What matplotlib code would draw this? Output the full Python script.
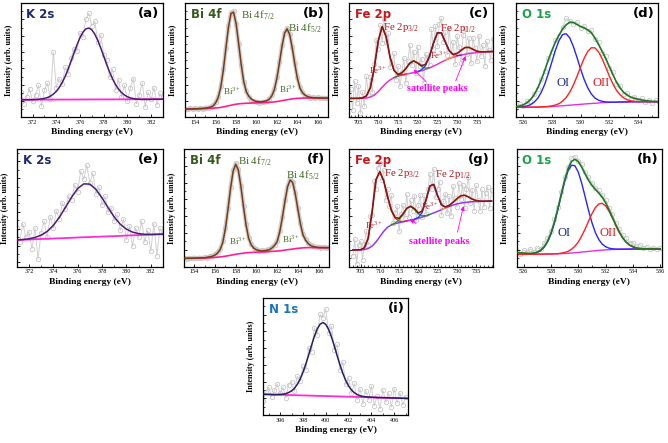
import numpy as np
import matplotlib
matplotlib.use('Agg')
import matplotlib.pyplot as plt
from matplotlib.ticker import MultipleLocator

plt.rcParams['font.family'] = 'Liberation Serif'
plt.rcParams['mathtext.fontset'] = 'stix'

# ---------------- K 2s : panels (a) and (e) ----------------
k_data_x = np.arange(371, 383.01, 0.25)
k_a_data = [22, 12, 18, 25, 14, 20, 28, 10, 24, 30, 16, 57, 26, 34, 29, 44, 38, 52, 60, 58,
            74, 70, 86, 91, 80, 84, 66, 72, 55, 50, 35, 42, 24, 33, 18, 28, 14, 26, 34, 12,
            20, 30, 9, 22, 16, 26, 11, 21, 18]
k_a_env = [15.5, 15.5, 15.5, 15.5, 15.6, 15.7, 15.9, 16.2, 16.7, 17.4, 18.6, 20.4, 22.8, 26.2,
           30.5, 35.9, 42.2, 49.2, 56.4, 63.5, 69.7, 74.5, 77.4, 78.1, 76.5, 72.7, 67.3, 60.7,
           53.5, 46.3, 39.6, 33.6, 28.7, 24.8, 21.8, 19.6, 18.1, 17.1, 16.5, 16.1, 15.9, 15.8,
           15.8, 15.8, 15.8, 15.9, 15.9, 15.9, 16.0]
k_a_bg_x = [371, 383]
k_a_bg = [15.5, 16.0]

k_e_data = [30, 18, 34, 22, 27, 12, 30, 3, 26, 36, 22, 40, 30, 45, 38, 52, 47, 58, 55, 68,
            62, 80, 73, 85, 70, 78, 60, 66, 50, 58, 44, 48, 36, 42, 28, 38, 20, 32, 14, 30,
            22, 36, 18, 28, 10, 34, 6, 30, 26]
k_e_x = np.arange(371, 383.01, 0.5)
k_e_env = [19.7, 20.0, 20.6, 21.8, 23.8, 27.1, 32.3, 39.5, 48.2, 57.1, 64.7, 68.8, 68.6, 64.0,
           56.5, 47.9, 39.8, 33.4, 29.1, 26.5, 25.2, 24.6, 24.5, 24.6, 24.7]
k_e_bg = [19.6, 19.8, 20.0, 20.3, 20.5, 20.7, 20.9, 21.1, 21.3, 21.5, 21.8, 22.0, 22.2, 22.4,
          22.6, 22.8, 23.0, 23.2, 23.5, 23.7, 23.9, 24.1, 24.3, 24.5, 24.7]

# ---------------- Bi 4f : panels (b) and (f) ----------------
bi_data_x = np.arange(153, 167.01, 0.25)
bi_b_data = [7.8, 7.0, 7.9, 7.2, 8.0, 7.4, 8.3, 7.6, 8.4, 8.6, 9.4, 10.6, 13.3, 17.9, 27.2,
             42.0, 60.9, 79.5, 91.6, 92.6, 81.3, 63.9, 45.5, 30.6, 22.9, 17.8, 15.5, 14.0,
             13.6, 13.0, 13.2, 13.9, 14.2, 16.5, 19.5, 25.0, 35.1, 48.6, 63.0, 74.2, 77.9,
             72.9, 61.3, 47.4, 35.0, 26.4, 22.3, 19.0, 18.6, 17.2, 17.8, 16.9, 17.5, 16.6,
             17.4, 16.7, 17.2]
bi_f_data = [7.6, 6.8, 7.5, 7.0, 7.8, 7.1, 7.7, 7.3, 7.9, 7.6, 8.9, 9.3, 10.5, 12.2, 15.3,
             21.4, 33.1, 49.5, 67.5, 82.1, 87.8, 82.7, 68.9, 51.6, 35.9, 24.7, 19.1, 16.3,
             14.9, 13.6, 13.9, 13.2, 14.5, 15.0, 16.5, 18.7, 22.0, 30.2, 42.3, 56.3, 68.4,
             74.5, 72.3, 62.6, 49.6, 37.0, 27.5, 23.2, 20.2, 18.5, 17.6, 16.5, 17.0, 16.2,
             16.8, 16.0, 16.6]
bi_x = [153, 154, 155, 155.5, 155.75, 156, 156.25, 156.5, 156.75, 157, 157.25, 157.5, 157.75,
        158, 158.25, 158.5, 158.75, 159, 159.25, 159.5, 159.75, 160, 160.5, 161, 161.25,
        161.5, 161.75, 162, 162.25, 162.5, 162.75, 163, 163.25, 163.5, 163.75, 164, 164.25,
        164.5, 164.75, 165, 165.25, 165.5, 166, 167]
bi_b_env = [7.3, 7.5, 8.1, 9.0, 10.1, 12.8, 17.5, 26.4, 41.3, 60.2, 78.7, 90.8, 92.0, 82.0,
            64.7, 46.3, 31.4, 22.5, 18.5, 16.1, 14.7, 14.0, 13.7, 14.6, 16.0, 18.9, 24.3, 34.3,
            47.9, 62.4, 73.6, 77.4, 72.4, 60.7, 46.7, 34.4, 25.7, 21.7, 19.5, 18.2, 17.6, 17.3,
            17.0, 16.9]
bi_b_bg = [7.3, 7.5, 7.8, 8.0, 8.1, 8.3, 8.5, 8.8, 9.2, 9.7, 10.2, 10.7, 11.2, 11.6, 11.9,
           12.1, 12.3, 12.4, 12.5, 12.6, 12.7, 12.8, 12.9, 13.1, 13.2, 13.4, 13.6, 13.9, 14.3,
           14.7, 15.1, 15.5, 15.9, 16.2, 16.5, 16.7, 16.8, 16.9, 17.0, 17.0, 17.0, 17.0, 17.0,
           16.9]
bi_f_env = [7.1, 7.2, 7.6, 8.4, 8.9, 9.9, 11.6, 14.6, 20.6, 32.3, 48.6, 66.6, 81.2, 87.0,
            82.0, 68.1, 50.8, 35.2, 24.0, 18.4, 15.7, 14.3, 13.3, 13.9, 14.4, 15.9, 18.0, 21.3,
            29.5, 41.6, 55.5, 67.6, 73.7, 71.5, 61.9, 48.8, 36.2, 26.8, 22.5, 19.6, 17.9, 17.0,
            16.2, 16.1]
bi_f_bg = [7.1, 7.2, 7.4, 7.6, 7.7, 7.9, 8.1, 8.3, 8.6, 8.9, 9.3, 9.7, 10.1, 10.5, 10.9, 11.2,
           11.5, 11.8, 12.0, 12.1, 12.2, 12.3, 12.5, 12.7, 12.8, 13.0, 13.1, 13.3, 13.5, 13.8,
           14.1, 14.4, 14.7, 15.0, 15.3, 15.6, 15.8, 16.0, 16.1, 16.2, 16.2, 16.2, 16.2, 16.1]

# ---------------- Fe 2p : panels (c) and (g) ----------------
fe_data_x = np.arange(703, 739.01, 0.5)
fe_c_data = [24.7, 6.7, 31.7, 12.7, 27.7, 3.9, 22.1, 9.8, 35.8, 19.8, 35.0, 22.0, 46.3, 68.0,
             59.8, 80.5, 65.4, 86.0, 65.5, 73.5, 43.7, 48.0, 56.1, 33.0, 44.7, 27.2, 40.0, 51.8,
             29.8, 49.2, 63.4, 45.6, 57.4, 38.7, 61.6, 45.2, 51.2, 30.5, 55.4, 52.5, 45.5, 77.0,
             59.9, 80.0, 62.0, 81.5, 86.8, 66.2, 74.9, 54.8, 78.3, 54.4, 66.1, 46.4, 71.0, 61.2,
             47.6, 72.0, 78.1, 55.3, 69.2, 47.4, 69.5, 60.6, 48.9, 71.5, 53.3, 63.3, 45.3, 66.4,
             58.5, 50.5, 68.6]
fe_g_data = [9.2, 23.2, 2.2, 18.3, 21.4, 6.0, 19.1, 30.5, 18.5, 43.0, 43.8, 73.0, 65.9, 84.0,
             88.0, 73.5, 82.0, 56.5, 65.6, 51.5, 60.8, 37.3, 45.7, 51.2, 30.1, 44.7, 52.7, 41.3,
             61.6, 41.8, 56.3, 47.5, 60.3, 39.3, 52.6, 61.0, 42.3, 60.5, 44.8, 66.2, 78.6, 66.2,
             82.9, 58.8, 66.4, 72.0, 43.6, 55.5, 61.8, 45.2, 60.0, 43.3, 68.7, 58.2, 50.7, 71.1,
             57.2, 69.6, 49.7, 66.1, 76.3, 54.3, 65.4, 47.7, 69.2, 56.9, 47.7, 65.6, 50.6, 62.6,
             67.7, 49.7, 64.8]
fe_x = np.arange(703, 740)
fe_c_env = [16.7, 16.7, 16.7, 17.1, 18.8, 26.0, 43.3, 66.8, 79.4, 70.5, 52.7, 41.1, 37.7, 39.0,
            42.8, 47.4, 49.4, 47.6, 45.2, 46.4, 53.5, 64.9, 74.0, 73.8, 65.9, 58.3, 55.1, 56.0,
            58.6, 61.1, 61.2, 59.5, 57.9, 57.3, 57.3, 57.5, 57.6]
fe_c_bg = [16.7, 16.7, 16.7, 16.8, 17.0, 17.8, 19.5, 22.5, 26.5, 30.0, 32.8, 34.8, 36.0, 37.0,
           37.8, 38.5, 39.2, 40.0, 40.9, 42.0, 43.3, 44.8, 46.5, 48.3, 50.0, 51.5, 52.7, 53.7,
           54.5, 55.2, 55.8, 56.3, 56.7, 57.0, 57.3, 57.5, 57.6]
fe_c_red_x = np.arange(705, 718)
fe_c_red = [16.7, 17.1, 18.8, 26.0, 43.3, 66.8, 79.4, 70.5, 52.7, 41.1, 37.3, 37.2, 37.8]
fe_c_green_x = np.arange(714, 724)
fe_c_green = [34.8, 36.4, 38.8, 42.8, 47.4, 49.4, 47.5, 44.4, 43.1, 43.5]
fe_c_blue_x = np.arange(720, 732)
fe_c_blue = [40.1, 41.7, 45.3, 53.3, 64.9, 74.0, 73.8, 65.9, 58.2, 54.6, 54.1, 54.5]
fe_c_orange_x = np.arange(727, 738)
fe_c_orange = [50.0, 51.6, 53.2, 55.6, 58.6, 61.1, 61.2, 59.5, 57.9, 57.3, 57.3]

fe_g_env = [14.2, 14.2, 14.4, 16.1, 24.5, 46.8, 73.9, 80.7, 73.0, 59.6, 47.8, 41.7, 41.1, 44.7,
            49.6, 51.3, 49.3, 45.6, 47.3, 56.8, 68.6, 69.9, 60.4, 52.6, 50.8, 52.0, 54.7, 57.7,
            60.2, 60.7, 59.3, 57.4, 56.2, 55.7, 55.6, 55.7, 55.8]
fe_g_bg = [14.2, 14.2, 14.3, 14.6, 15.5, 17.5, 21.0, 25.5, 30.0, 33.5, 35.5, 36.6, 37.4, 38.1,
           38.8, 39.5, 40.3, 41.2, 42.1, 43.2, 44.4, 45.7, 47.0, 48.5, 49.9, 51.2, 52.3, 53.3,
           54.0, 54.5, 54.9, 55.2, 55.4, 55.5, 55.6, 55.7, 55.8]
fe_g_red_x = np.arange(705, 718)
fe_g_red = [14.4, 16.1, 24.5, 46.8, 73.9, 80.7, 73.0, 59.6, 47.8, 41.1, 38.7, 38.4, 38.8]
fe_g_green_x = np.arange(713, 724)
fe_g_green = [35.5, 37.2, 39.8, 44.4, 49.6, 51.3, 48.5, 44.9, 43.2, 43.4, 44.4]
fe_g_blue_x = np.arange(719, 729)
fe_g_blue = [40.3, 41.9, 46.2, 56.6, 68.6, 69.9, 60.4, 52.6, 50.6, 51.2]
fe_g_orange_x = np.arange(726, 737)
fe_g_orange = [48.5, 50.1, 52.0, 54.5, 57.7, 60.2, 60.7, 59.3, 57.4, 56.2, 55.7]

# ---------------- O 1s : panels (d) and (h) ----------------
o_d_x = np.arange(525.5, 535.51, 0.25)
o_d_data = [8.0, 11.5, 10.2, 14.0, 14.6, 20.8, 24.6, 33.8, 40.2, 51.6, 57.3, 67.5, 71.1, 79.0,
            86.5, 84.6, 81.4, 83.5, 78.0, 80.1, 75.2, 76.3, 68.1, 65.9, 56.2, 53.8, 43.0, 39.6,
            29.4, 27.9, 20.5, 21.3, 16.5, 18.2, 14.9, 16.8, 13.9, 15.6, 13.0, 15.1, 13.2]
o_d_env = [9.5, 10.0, 11.0, 12.8, 15.5, 19.5, 25.5, 32.5, 41.0, 50.2, 58.5, 66.0, 72.0, 77.3,
           81.0, 83.2, 83.0, 81.2, 79.5, 78.2, 76.5, 74.0, 69.5, 63.8, 57.8, 51.5, 44.5, 37.5,
           31.0, 25.8, 22.0, 19.5, 17.8, 16.8, 16.0, 15.3, 14.8, 14.4, 14.1, 13.9, 13.8]
o_d_oi = [9.0, 9.1, 9.4, 10.0, 11.1, 13.2, 16.5, 21.8, 29.0, 38.3, 48.6, 58.9, 67.3, 72.5, 73.1,
          69.4, 61.9, 52.4, 42.3, 33.2, 25.9, 20.5, 17.0, 15.1, 14.1, 13.6, 13.4, 13.35, 13.4,
          13.5, 13.55, 13.6, 13.7, 13.7, 13.75, 13.8, 13.8, 13.8, 13.8, 13.8, 13.8]
o_d_oii = [8.9, 8.9, 8.95, 8.97, 9.0, 9.05, 9.1, 9.15, 9.4, 9.65, 10.1, 10.9, 12.1, 14.25, 17.5,
           22.2, 28.4, 35.9, 44.0, 51.7, 57.7, 60.9, 60.8, 57.4, 51.4, 44.0, 36.3, 29.4, 23.8,
           19.8, 17.1, 15.5, 14.6, 14.1, 13.95, 13.85, 13.8, 13.8, 13.8, 13.8, 13.8]
o_d_bg = [8.9, 8.9, 8.95, 8.97, 9.0, 9.05, 9.1, 9.15, 9.3, 9.45, 9.6, 9.8, 10.0, 10.25, 10.5,
          10.75, 11.0, 11.25, 11.5, 11.75, 12.0, 12.2, 12.4, 12.65, 12.9, 13.05, 13.2, 13.3,
          13.4, 13.5, 13.55, 13.6, 13.7, 13.7, 13.75, 13.8, 13.8, 13.8, 13.8, 13.8, 13.8]

o_h_x = np.arange(525.5, 536.01, 0.25)
o_h_data = [13.5, 11.0, 14.2, 12.3, 15.1, 12.8, 16.0, 15.2, 19.8, 24.5, 30.6, 40.2, 50.8, 63.5,
            75.8, 85.0, 92.0, 93.5, 90.2, 87.1, 80.6, 75.9, 71.4, 67.2, 64.8, 61.0, 56.9, 50.1,
            44.6, 37.2, 32.0, 26.8, 24.1, 20.5, 20.2, 17.3, 18.6, 16.1, 17.0, 15.2, 16.3, 14.8,
            15.6]
o_h_env = [12.0, 11.8, 11.6, 11.4, 11.3, 11.6, 12.3, 13.9, 16.7, 21.2, 27.9, 37.2, 48.4, 60.9,
           72.9, 82.9, 89.3, 91.25, 89.3, 84.6, 78.9, 73.4, 69.1, 65.65, 62.6, 59.05, 54.4,
           48.45, 42.0, 35.35, 29.4, 24.45, 20.9, 18.35, 16.9, 15.9, 15.4, 15.2, 15.0, 15.0,
           15.0, 15.0, 15.0]
o_h_oi = [10.5, 10.5, 10.5, 10.5, 10.85, 11.3, 12.1, 13.75, 16.6, 21.15, 27.9, 37.1, 48.3, 60.5,
          72.1, 81.3, 86.2, 85.85, 80.5, 71.1, 59.7, 47.9, 37.5, 29.05, 23.1, 19.25, 17.0,
          15.75, 15.2, 14.95, 14.9, 14.9, 14.9, 14.95, 15.0, 15.0, 15.0, 15.0, 15.0, 15.0,
          15.0, 15.0, 15.0]
o_h_oii = [10.5, 10.5, 10.5, 10.5, 10.55, 10.6, 10.6, 10.65, 10.7, 10.75, 10.8, 10.9, 11.0,
           11.5, 12.0, 13.0, 14.7, 17.25, 20.9, 25.9, 31.9, 38.5, 44.9, 50.15, 53.3, 53.85,
           51.7, 47.15, 41.4, 35.1, 29.3, 24.45, 20.9, 18.35, 16.9, 15.9, 15.4, 15.2, 15.0,
           15.0, 15.0, 15.0, 15.0]
o_h_bg = [10.5, 10.5, 10.5, 10.5, 10.55, 10.6, 10.6, 10.65, 10.7, 10.75, 10.8, 10.9, 11.0, 11.1,
          11.2, 11.4, 11.6, 11.85, 12.1, 12.4, 12.7, 13.0, 13.3, 13.55, 13.8, 14.05, 14.3,
          14.45, 14.6, 14.7, 14.8, 14.85, 14.9, 14.95, 15.0, 15.0, 15.0, 15.0, 15.0, 15.0,
          15.0, 15.0, 15.0]

# ---------------- N 1s : panel (i) ----------------
n_data_x = np.arange(394.5, 407.01, 0.25)
n_data = [12.0, 19.5, 24.0, 15.8, 21.0, 26.5, 18.4, 23.6, 14.9, 25.8, 28.3, 20.1, 33.0, 28.7,
          41.5, 38.6, 57.2, 54.0, 74.5, 68.8, 86.0, 83.2, 90.5, 70.4, 76.1, 55.9, 60.3, 38.7,
          45.2, 26.1, 31.8, 18.5, 27.0, 12.9, 22.4, 9.6, 20.8, 13.1, 24.5, 7.9, 16.2, 5.4,
          21.7, 11.3, 18.9, 6.8, 22.6, 10.4, 19.2, 8.7, 15.5]
n_x = [394.5, 395.0, 395.5] + list(np.arange(396.0, 403.51, 0.25)) + [404.5, 405.5, 406.5, 407.2]
n_env = [17.7, 17.6, 17.4, 17.6, 17.8, 18.3, 19.2, 20.6, 22.8, 26.1, 30.6, 36.4, 43.5, 51.3,
         59.5, 67.2, 73.5, 77.6, 79.1, 77.5, 73.2, 66.7, 59.0, 50.6, 42.6, 35.5, 29.5, 24.8,
         21.5, 19.1, 17.5, 16.5, 15.9, 15.5, 14.9, 14.7, 14.4, 14.2]
n_bg_x = [394.5, 407.2]
n_bg = [17.7, 14.2]

MAGENTA = '#ff2bd6'
SAT = '#ff00ff'


def make_ax(rect, xlim, ylim, xmajor, xminor):
    ax = fig.add_axes(rect)
    ax.set_xlim(*xlim)
    ax.set_ylim(*ylim)
    ax.xaxis.set_major_locator(MultipleLocator(xmajor))
    ax.xaxis.set_minor_locator(MultipleLocator(xminor))
    span = ylim[1] - ylim[0]
    ax.yaxis.set_major_locator(MultipleLocator(span / 7))
    ax.yaxis.set_minor_locator(MultipleLocator(span / 14))
    ax.tick_params(which='both', direction='in')
    ax.tick_params(axis='x', which='major', length=2.5, width=0.6, labelsize=4.4, pad=1.8)
    ax.tick_params(axis='x', which='minor', length=1.4, width=0.5)
    ax.tick_params(axis='y', which='major', length=2.5, width=0.6, labelleft=False)
    ax.tick_params(axis='y', which='minor', length=1.4, width=0.5)
    for s in ax.spines.values():
        s.set_linewidth(0.9)
    ax.set_xlabel('Binding energy (eV)', fontsize=6.8, fontweight='bold', labelpad=2.5)
    ax.set_ylabel('Intensity (arb. units)', fontsize=5.8, fontweight='bold', labelpad=2.5)
    return ax


def raw(ax, x, y, halo=False):
    if halo:
        ax.plot(x, y, '-', color='#d2d2d2', lw=3.0, zorder=1)
    ax.plot(x, y, '-', color='#d0d0d0', lw=0.7, zorder=1)
    ax.plot(x, y, 'o', mfc='none', mec='#c6c6c6', ms=3.2, mew=0.6, zorder=1.2)


def heads(ax, title, tcolor, label):
    ax.text(0.04, 0.96, title, transform=ax.transAxes, ha='left', va='top', fontsize=8.5,
            fontweight='bold', family='DejaVu Sans', color=tcolor)
    ax.text(0.975, 0.965, label, transform=ax.transAxes, ha='right', va='top', fontsize=9.5,
            fontweight='bold', family='DejaVu Sans', color='black')


fig = plt.figure(figsize=(6.68, 4.43), dpi=100)

# (a) K 2s
ax = make_ax([0.031, 0.7348, 0.213, 0.2585], (371, 383), (0, 100), 2, 1)
raw(ax, k_data_x, k_a_data)
ax.plot(k_a_bg_x, k_a_bg, color=MAGENTA, lw=1.3, zorder=2)
ax.plot(k_data_x, k_a_env, color='#4a1b78', lw=1.1, zorder=3)
heads(ax, 'K 2s', '#1c2a6e', '(a)')

# (b) Bi 4f
ax = make_ax([0.277, 0.7348, 0.214, 0.2585], (153, 167), (0, 100), 2, 1)
raw(ax, bi_data_x, bi_b_data, halo=True)
ax.plot(bi_x, bi_b_bg, color='#ff1f8f', lw=1.2, zorder=2)
ax.plot(bi_x, bi_b_env, color='#7a3a12', lw=1.1, zorder=3)
heads(ax, 'Bi 4f', '#36591c', '(b)')
ax.text(158.5, 89.5, r'Bi 4f$_{\mathregular{7/2}}$', fontsize=7.8, color='#3f6a22', va='center')
ax.text(163.1, 78.0, r'Bi 4f$_{\mathregular{5/2}}$', fontsize=7.8, color='#3f6a22', va='center')
ax.text(157.6, 22.6, r'Bi$^{\mathregular{3+}}$', fontsize=6.5, color='#3f6a22', ha='center', va='center')
ax.text(163.1, 24.6, r'Bi$^{\mathregular{3+}}$', fontsize=6.5, color='#3f6a22', ha='center', va='center')

# (c) Fe 2p
ax = make_ax([0.5225, 0.7348, 0.2156, 0.2585], (702.6, 739.1), (0, 100), 5, 1)
raw(ax, fe_data_x, fe_c_data)
ax.plot(fe_x, fe_c_bg, color='#e535d0', lw=1.1, zorder=2)
ax.plot(fe_c_red_x, fe_c_red, color='#ff1a1a', lw=0.9, zorder=2.5)
ax.plot(fe_c_green_x, fe_c_green, color='#1a9a1a', lw=0.9, zorder=2.5)
ax.plot(fe_c_blue_x, fe_c_blue, color='#2035ff', lw=0.9, zorder=2.5)
ax.plot(fe_c_orange_x, fe_c_orange, color='#ff9a1a', lw=0.9, zorder=2.5)
ax.plot(fe_x, fe_c_env, color='#8a1515', lw=1.2, zorder=3)
heads(ax, 'Fe 2p', '#c8151c', '(c)')
ax.text(711.3, 79, r'Fe 2p$_{\mathregular{3/2}}$', fontsize=7.8, color='#b5161d', va='center')
ax.text(725.6, 78, r'Fe 2p$_{\mathregular{1/2}}$', fontsize=7.8, color='#b5161d', va='center')
ax.text(710.0, 41.5, r'Fe$^{\mathregular{3+}}$', fontsize=6.3, color='#b5161d', ha='center', va='center')
ax.text(725.5, 54.6, r'Fe$^{\mathregular{3+}}$', fontsize=6.3, color='#b5161d', ha='center', va='center')
ax.text(725.0, 25.5, 'satellite peaks', fontsize=7.3, fontweight='bold', color=SAT,
        ha='center', va='center')
for (x0, y0, x1, y1) in [(722.6, 29.8, 718.5, 43.5), (729.4, 29.8, 732.4, 56.0)]:
    ax.annotate('', xy=(x1, y1), xytext=(x0, y0),
                arrowprops=dict(arrowstyle='-|>', color=SAT, lw=0.6, mutation_scale=6))

# (d) O 1s
ax = make_ax([0.7725, 0.7348, 0.2126, 0.2585], (525.5, 535.4), (0, 100), 2, 1)
raw(ax, o_d_x, o_d_data)
ax.plot(o_d_x, o_d_bg, color='#e030e0', lw=1.0, zorder=2)
ax.plot(o_d_x, o_d_oi, color='#2525ff', lw=1.0, zorder=2.5)
ax.plot(o_d_x, o_d_oii, color='#ff2020', lw=1.0, zorder=2.5)
ax.plot(o_d_x, o_d_env, color='#1e7a22', lw=1.2, zorder=3)
heads(ax, 'O 1s', '#1fa24a', '(d)')
ax.text(528.8, 29.8, 'OI', fontsize=9, color='#1a237e', ha='center', va='center')
ax.text(531.4, 29.8, 'OII', fontsize=9, color='#e8141c', ha='center', va='center')

# (e) K 2s
ax = make_ax([0.025, 0.398, 0.219, 0.2657], (371, 383), (-3.8, 99.4), 2, 1)
raw(ax, k_data_x, k_e_data)
ax.plot(k_e_x, k_e_bg, color=MAGENTA, lw=1.3, zorder=2)
ax.plot(k_e_x, k_e_env, color='#4a1b78', lw=1.1, zorder=3)
heads(ax, 'K 2s', '#1c2a6e', '(e)')

# (f) Bi 4f
ax = make_ax([0.2754, 0.398, 0.217, 0.2657], (153, 167), (0, 100), 2, 1)
raw(ax, bi_data_x, bi_f_data, halo=True)
ax.plot(bi_x, bi_f_bg, color='#ff1f8f', lw=1.2, zorder=2)
ax.plot(bi_x, bi_f_env, color='#7a3a12', lw=1.1, zorder=3)
heads(ax, 'Bi 4f', '#36591c', '(f)')
ax.text(158.2, 90.0, r'Bi 4f$_{\mathregular{7/2}}$', fontsize=7.8, color='#3f6a22', va='center')
ax.text(162.9, 77.5, r'Bi 4f$_{\mathregular{5/2}}$', fontsize=7.8, color='#3f6a22', va='center')
ax.text(158.2, 21.2, r'Bi$^{\mathregular{3+}}$', fontsize=6.5, color='#3f6a22', ha='center', va='center')
ax.text(163.3, 23.2, r'Bi$^{\mathregular{3+}}$', fontsize=6.5, color='#3f6a22', ha='center', va='center')

# (g) Fe 2p
ax = make_ax([0.5225, 0.398, 0.2156, 0.2657], (702.0, 739.4), (0, 100), 5, 1)
raw(ax, fe_data_x, fe_g_data)
ax.plot(fe_x, fe_g_bg, color='#9b35f0', lw=1.1, zorder=2)
ax.plot(fe_g_red_x, fe_g_red, color='#ff1a1a', lw=0.9, zorder=2.5)
ax.plot(fe_g_green_x, fe_g_green, color='#1a9a1a', lw=0.9, zorder=2.5)
ax.plot(fe_g_blue_x, fe_g_blue, color='#2035ff', lw=0.9, zorder=2.5)
ax.plot(fe_g_orange_x, fe_g_orange, color='#ff9a1a', lw=0.9, zorder=2.5)
ax.plot(fe_x, fe_g_env, color='#8a1515', lw=1.2, zorder=3)
heads(ax, 'Fe 2p', '#c8151c', '(g)')
ax.text(711.0, 79, r'Fe 2p$_{\mathregular{3/2}}$', fontsize=7.8, color='#b5161d', va='center')
ax.text(724.2, 78, r'Fe 2p$_{\mathregular{1/2}}$', fontsize=7.8, color='#b5161d', va='center')
ax.text(708.6, 35.4, r'Fe$^{\mathregular{3+}}$', fontsize=6.3, color='#b5161d', ha='center', va='center')
ax.text(723.1, 51.0, r'Fe$^{\mathregular{3+}}$', fontsize=6.3, color='#b5161d', ha='center', va='center')
ax.text(725.3, 21.2, 'satellite peaks', fontsize=7.3, fontweight='bold', color=SAT,
        ha='center', va='center')
for (x0, y0, x1, y1) in [(720.0, 35.4, 717.2, 41.6), (730.0, 27.0, 731.9, 53.8)]:
    ax.annotate('', xy=(x1, y1), xytext=(x0, y0),
                arrowprops=dict(arrowstyle='-|>', color=SAT, lw=0.6, mutation_scale=6))

# (h) O 1s
ax = make_ax([0.7735, 0.398, 0.217, 0.2657], (525.5, 536.1), (0, 100), 2, 1)
raw(ax, o_h_x, o_h_data)
ax.plot(o_h_x, o_h_bg, color='#e030e0', lw=1.0, zorder=2)
ax.plot(o_h_x, o_h_oi, color='#2525ff', lw=1.0, zorder=2.5)
ax.plot(o_h_x, o_h_oii, color='#ff2020', lw=1.0, zorder=2.5)
ax.plot(o_h_x, o_h_env, color='#1e7a22', lw=1.2, zorder=3)
heads(ax, 'O 1s', '#1fa24a', '(h)')
ax.text(529.0, 28.3, 'OI', fontsize=9, color='#1a237e', ha='center', va='center')
ax.text(532.2, 28.3, 'OII', fontsize=9, color='#e8141c', ha='center', va='center')

# (i) N 1s
ax = make_ax([0.3937, 0.0632, 0.217, 0.264], (394.5, 407.2), (0, 100), 2, 1)
raw(ax, n_data_x, n_data)
ax.plot(n_bg_x, n_bg, color=MAGENTA, lw=1.3, zorder=2)
ax.plot(n_x, n_env, color='#2c1a6a', lw=1.1, zorder=3)
heads(ax, 'N 1s', '#1c75bc', '(i)')

fig.savefig('out.png', dpi=100)
